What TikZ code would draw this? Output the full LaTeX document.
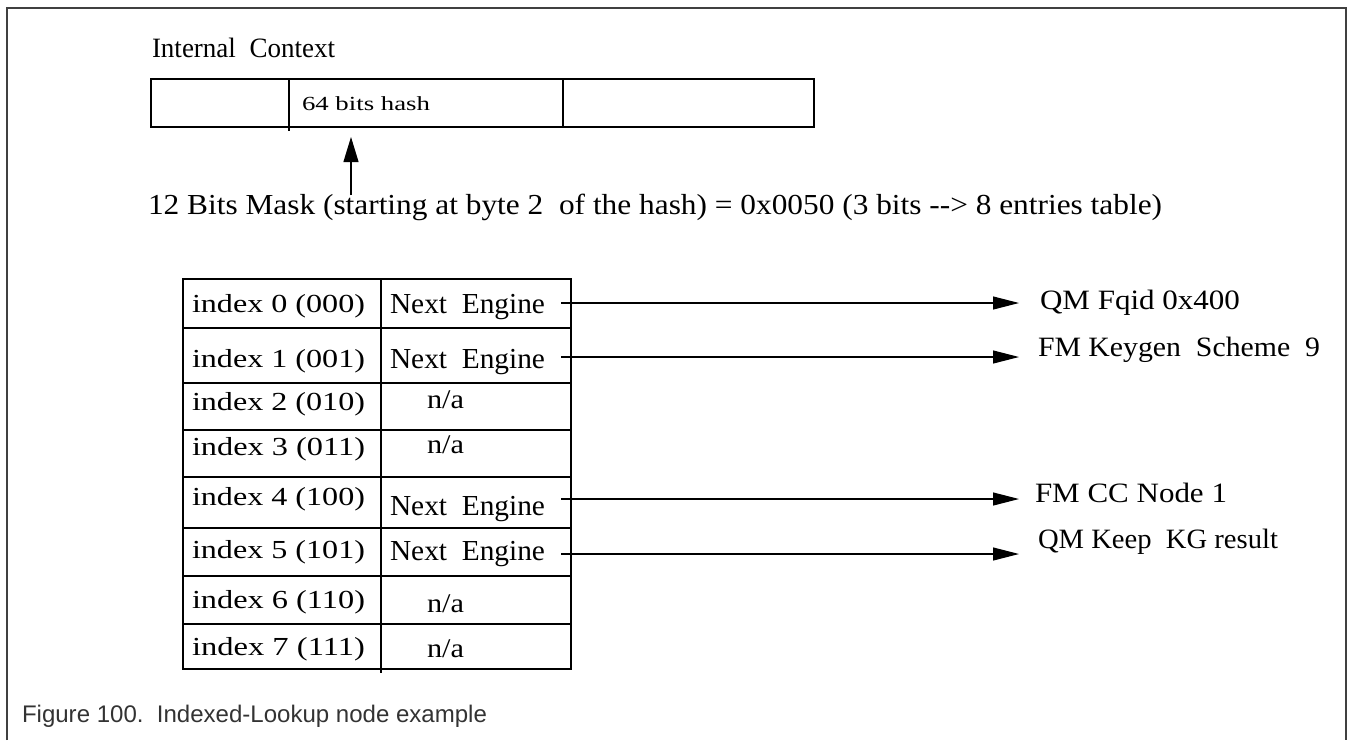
\documentclass[tikz,border=0pt]{standalone}
\usepackage{graphicx}
\usepackage{fontspec}
\setmainfont{Liberation Serif}
\newfontfamily\capfont{Liberation Sans}
\usetikzlibrary{arrows.meta}
\definecolor{framegray}{HTML}{404040}
\definecolor{capgray}{HTML}{333333}
\newcommand\fitw[3]{{\fontsize{#2}{#2}\selectfont\resizebox{#1pt}{\height}{#3}}}
\tikzset{
  txt/.style={anchor=base west, inner sep=0pt, outer sep=0pt},
  cellbox/.style={draw=black, line width=1.2pt, anchor=north west, inner sep=0pt, outer sep=0pt},
  framed/.style={line width=1.6pt, draw=framegray},
  conn/.style={line width=1.1pt, -{Triangle[length=26pt,width=13pt]}},
  upconn/.style={line width=1.1pt, -{Triangle[length=25pt,width=15pt]}},
}
\begin{document}
\begin{tikzpicture}[x=1pt,y=-1pt]
\useasboundingbox (0,0) rectangle (1353,740);
% outer frame
\draw[framed] (7,740) -- (7,8) -- (1346,8) -- (1346,740);

% internal context
\node[txt] (ctxlabel) at (152,57) {\fitw{183}{28}{Internal\ \ Context}};
\node[cellbox, minimum width=138pt, minimum height=48pt] (hb1) at (151,79) {};
\node[cellbox, minimum width=274pt, minimum height=48pt] (hb2) at (289,79) {};
\node[cellbox, minimum width=251pt, minimum height=48pt] (hb3) at (563,79) {};
\draw[line width=1.2pt] (hb2.south west) -- ++(0,4);
\node[txt] (hash) at (302,110) {\fitw{128}{20}{64 bits hash}};

% mask arrow and text
\coordinate (m0) at (351,195);
\coordinate (m1) at (351,137);
\draw[upconn] (m0) -- (m1);
\node[txt] (mask) at (148,214) {\fitw{1014}{29}{12 Bits Mask (starting at byte 2\ \ of the hash) = 0x0050 (3 bits -{}-> 8 entries table)}};

% table
\foreach \i/\ya/\yb in {0/279/328,1/328/383,2/383/430,3/430/477,4/477/528,5/528/576,6/576/624,7/624/669}{
  \pgfmathsetmacro\hh{\yb-\ya}
  \node[cellbox, minimum width=198pt, minimum height=\hh pt] (ci\i) at (183,\ya) {};
  \node[cellbox, minimum width=190pt, minimum height=\hh pt] (cv\i) at (381,\ya) {};
}
\draw[line width=1.2pt] (cv7.south west) -- ++(0,4);

\foreach \i/\b/\bits in {0/312/000,1/367/001,2/410/010,3/455/011,4/505/100,5/558/101,6/608/110,7/655/111}{
  \node[txt] (it\i) at (192,\b) {\fitw{173}{26}{index \i\ (\bits)}};
}
\foreach \i/\b in {0/313,1/368,4/515,5/560}{
  \node[txt] (ne\i) at (390,\b) {\fitw{155}{29}{Next\ \ Engine}};
}
\foreach \i/\b in {2/408,3/453,6/612,7/657}{
  \node[txt] (na\i) at (427,\b) {\fitw{37}{27}{n/a}};
}

% targets
\node[txt] (lab0) at (1040,309) {\fitw{200}{28}{QM Fqid 0x400}};
\node[txt] (lab1) at (1038,356) {\fitw{282}{28}{FM\ Keygen\ \ Scheme\ \ 9}};
\node[txt] (lab4) at (1035,502) {\fitw{192}{28}{FM CC Node 1}};
\node[txt] (lab5) at (1038,548) {\fitw{240}{28}{QM\ Keep\ \ KG\ result}};

\coordinate (s0) at (561,303);
\coordinate (s1) at (561,357);
\coordinate (s4) at (561,499);
\coordinate (s5) at (561,554);
\draw[conn, shorten >=21pt] (s0) -- (s0 -| lab0.west);
\draw[conn, shorten >=19pt] (s1) -- (s1 -| lab1.west);
\draw[conn, shorten >=16pt] (s4) -- (s4 -| lab4.west);
\draw[conn, shorten >=19pt] (s5) -- (s5 -| lab5.west);

% caption
\node[txt, text=capgray] (caption) at (22,722) {\capfont\fitw{465}{24}{Figure 100.\ \ Indexed-Lookup node example}};
\end{tikzpicture}
\end{document}
